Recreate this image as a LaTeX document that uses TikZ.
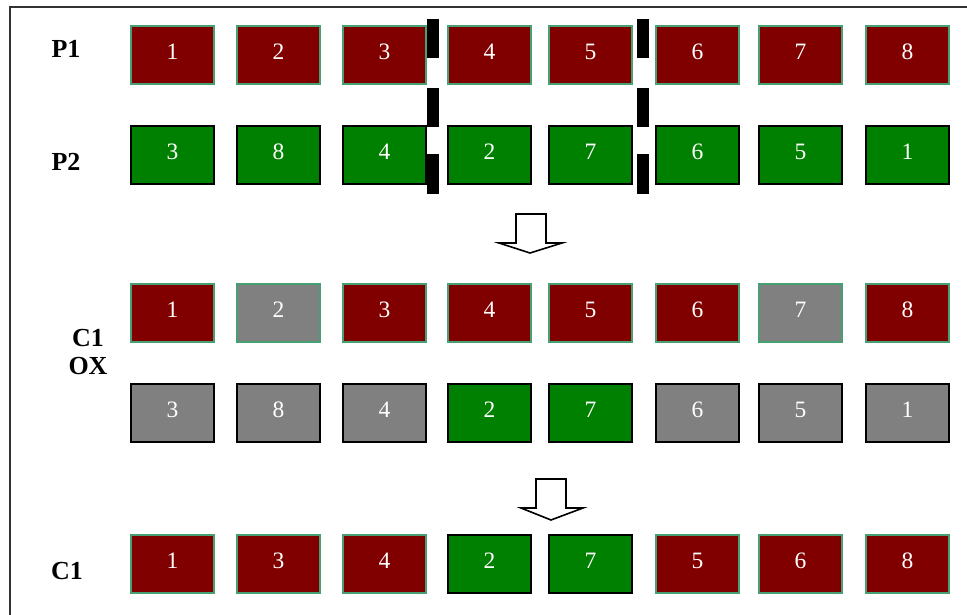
\documentclass[tikz,border=0pt]{standalone}
\usepackage{fontspec}
\setmainfont{Liberation Serif}
\definecolor{maroonc}{RGB}{128,0,0}
\definecolor{greenc}{RGB}{0,128,0}
\definecolor{grayc}{RGB}{128,128,128}
\definecolor{seaf}{RGB}{70,160,115}
\definecolor{framec}{RGB}{50,50,50}
\begin{document}
\begin{tikzpicture}[x=1pt,y=-1pt,
  cell/.style={minimum width=83pt,minimum height=58pt,inner sep=0pt,anchor=north west,
    line width=1.8pt,text=white,font=\fontsize{23.5}{23.5}\selectfont,text height=16pt,text depth=6pt},
  rd/.style={cell,fill=maroonc,draw=seaf},
  gn/.style={cell,fill=greenc,draw=black},
  gg/.style={cell,fill=grayc,draw=seaf},
  gk/.style={cell,fill=grayc,draw=black},
  lab/.style={font=\bfseries\fontsize{26}{26}\selectfont,inner sep=0pt},
  barc/.style={fill=black},
  blockarrow/.style={draw=black,fill=white,line width=1.6pt,line join=miter}]
\useasboundingbox (0,0) rectangle (967,615);
% frame
\draw[framec,line width=1.4pt] (10,615) -- (10,7) -- (967,7);
% labels
\node[lab] (lP1) at (66,49) {P1};
\node[lab] (lP2) at (66,162) {P2};
\node[lab] (lC1a) at (88,338) {C1};
\node[lab] (lOX) at (88,366) {OX};
\node[lab] (lC1b) at (67,571) {C1};
% row 1 : P1
\foreach \x/\n/\s in {130/1/rd,236/2/rd,342/3/rd,447/4/rd,548/5/rd,655/6/rd,758/7/rd,865/8/rd}
  \node[\s] (pa\n) at (\x,25) {\n};
% row 2 : P2
\foreach \x/\n/\s in {130/3/gn,236/8/gn,342/4/gn,447/2/gn,548/7/gn,655/6/gn,758/5/gn,865/1/gn}
  \node[\s] (pb\n) at (\x,125) {\n};
% row 3
\foreach \x/\n/\s in {130/1/rd,236/2/gg,342/3/rd,447/4/rd,548/5/rd,655/6/rd,758/7/gg,865/8/rd}
  \node[\s] (oa\n) at (\x,283) {\n};
% row 4
\foreach \x/\n/\s in {130/3/gk,236/8/gk,342/4/gk,447/2/gn,548/7/gn,655/6/gk,758/5/gk,865/1/gk}
  \node[\s] (ob\n) at (\x,383) {\n};
% row 5 : C1
\foreach \x/\n/\s in {130/1/rd,236/3/rd,342/4/rd,447/2/gn,548/7/gn,655/5/rd,758/6/rd,865/8/rd}
  \node[\s] (cc\n) at (\x,534) {\n};
% cut bars
\foreach \x in {427,637} {
  \fill[barc] (\x,19) rectangle +(11.5,39);
  \fill[barc] (\x,88) rectangle +(11.5,39);
  \fill[barc] (\x,154) rectangle +(11.5,40);
}
% block arrows
\draw[blockarrow] (516,214) -- (546,214) -- (546,243) -- (562,243) -- (530,253)
  -- (499,243) -- (516,243) -- cycle;
\draw[blockarrow] (536,479) -- (566,479) -- (566,508) -- (583,508) -- (551,520)
  -- (521,508) -- (536,508) -- cycle;
\end{tikzpicture}
\end{document}
